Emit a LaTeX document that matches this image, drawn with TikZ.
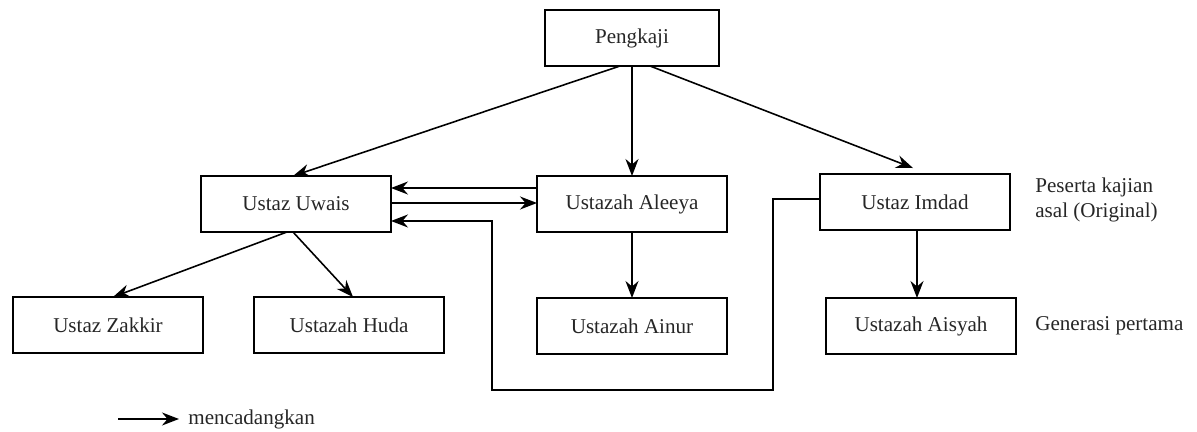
\documentclass[tikz,border=0pt]{standalone}
\usepackage{fontspec}
\setmainfont{Liberation Serif}
\usetikzlibrary{arrows.meta}
\tikzset{
	orang/.style={draw, line width=1pt, minimum width=3.8cm, minimum height=1.12cm, inner sep=0pt, outer sep=0pt, font=\fontsize{12}{14.4}\selectfont, text=black!85},
	catatan/.style={anchor=west, align=left, inner sep=0pt, font=\fontsize{12}{14.4}\selectfont, text=black!85},
	cadang/.style={line width=0.9pt, -{Stealth[length=3.4mm, width=2.6mm]}}
}

\begin{document}
\begin{tikzpicture}[x=0.02cm, y=-0.02cm]
		%%%%% START %%%%%
		
		\useasboundingbox (0, 0) rectangle (1197, 432);
		
		\node[orang, minimum width=3.48cm] (pengkaji) at (632, 38) {Pengkaji};
		
		\node[orang] (uwais) at (296, 204) {Ustaz Uwais};
		\node[orang] (aleeya) at (632, 204) {Ustazah Aleeya};
		\node[orang] (imdad) at (915, 202) {Ustaz Imdad};
		
		\node[orang] (zakkir) at (108, 325) {Ustaz Zakkir};
		\node[orang] (huda) at (349, 325) {Ustazah Huda};
		\node[orang] (ainur) at (632, 326) {Ustazah Ainur};
		\node[orang] (aisyah) at (921, 326) {Ustazah Aisyah};
		
		\node[catatan] (asal) at (1035, 200) {Peserta kajian\\asal (Original)};
		\node[catatan] (generasi) at (1035, 326) {Generasi pertama};
		
		\draw[cadang] ([xshift=-0.24cm]pengkaji.south) -- ([xshift=-0.06cm]uwais.north);
		\draw[cadang] (pengkaji.south) -- (aleeya.north);
		\draw[cadang] ([xshift=0.36cm]pengkaji.south) -- ([xshift=-0.04cm, yshift=0.12cm]imdad.north);
		
		\draw[cadang] ([yshift=0.32cm]aleeya.west) -- ([yshift=0.32cm]uwais.east);
		\draw[cadang] ([yshift=0.02cm]uwais.east) -- ([yshift=0.02cm]aleeya.west);
		
		\draw[cadang] ([xshift=-0.18cm]uwais.south) -- ([xshift=0.1cm]zakkir.north);
		\draw[cadang] ([xshift=-0.06cm]uwais.south) -- ([xshift=0.08cm]huda.north);
		\draw[cadang] (aleeya.south) -- (ainur.north);
		\draw[cadang] ([xshift=0.04cm]imdad.south) -- ([xshift=-0.08cm]aisyah.north);
		
		\coordinate (balikA) at (773, 390);
		\coordinate (balikB) at (492, 390);
		\draw[cadang] ([yshift=0.06cm]imdad.west) -| (balikA) -- (balikB) |- ([yshift=-0.34cm]uwais.east);
		
		\coordinate (petunjuk) at (118, 419);
		\node[catatan] (mencadang) at (188, 419) {mencadangkan};
		\draw[cadang] (petunjuk) -- ([xshift=-0.18cm]mencadang.west);
		
		%%%%% END %%%%%
	\end{tikzpicture}
\end{document}
